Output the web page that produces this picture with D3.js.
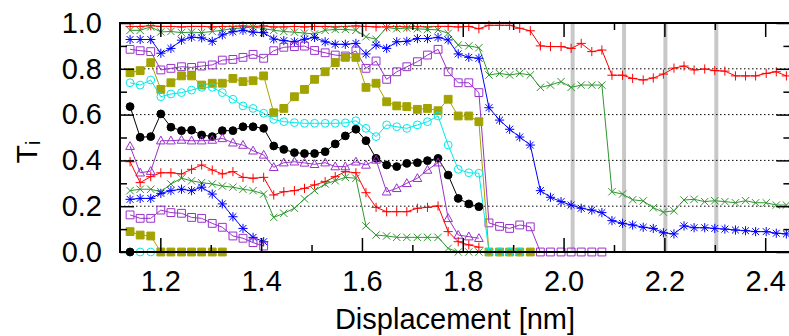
<!DOCTYPE html>
<html><head><meta charset="utf-8">
<script src="https://cdn.jsdelivr.net/npm/d3@7"></script>
<style>body{margin:0;background:#fff}svg{display:block}</style>
</head><body>
<svg id="c" width="789" height="336"></svg>
<script>
// ---- data ----
const displacement = [1.140,1.160,1.181,1.201,1.221,1.242,1.262,1.282,1.303,1.323,1.344,1.364,1.384,1.405,1.425,1.445,1.466,1.486,1.506,1.527,1.547,1.567,1.588,1.608,1.628,1.649,1.669,1.689,1.710,1.730,1.751,1.771,1.791,1.812,1.832,1.852,1.873,1.893,1.913,1.934,1.954,1.974,1.995,2.015,2.035,2.056,2.076,2.096,2.117,2.137,2.158,2.178,2.198,2.219,2.239,2.259,2.280,2.300,2.320,2.341,2.361,2.381,2.402,2.422,2.442];

const t1 = [0.985,0.985,0.988,0.985,0.985,0.983,0.985,0.985,0.983,0.985,0.985,0.987,0.985,0.987,0.983,0.983,0.985,0.983,0.985,0.985,0.983,0.985,0.987,0.985,0.983,0.983,0.985,0.983,0.985,0.983,0.985,0.985,0.983,0.985,0.975,0.990,0.990,0.990,0.977,0.966,0.900,0.897,0.897,0.889,0.911,0.875,0.882,0.772,0.772,0.758,0.751,0.760,0.777,0.803,0.812,0.795,0.799,0.792,0.790,0.769,0.769,0.769,0.780,0.787,0.769];
const t2 = [0.968,0.968,0.983,0.961,0.963,0.958,0.960,0.958,0.963,0.968,0.976,0.978,0.983,0.976,0.968,0.963,0.960,0.956,0.952,0.968,0.972,0.972,0.968,0.940,0.929,0.980,0.975,0.978,0.975,0.972,0.970,0.955,0.904,0.900,0.892,0.773,0.780,0.773,0.780,0.773,0.719,0.729,0.744,0.719,0.729,0.729,0.729,0.263,0.253,0.228,0.223,0.193,0.174,0.180,0.227,0.230,0.220,0.224,0.220,0.215,0.224,0.215,0.215,0.205,0.205];
const t3 = [0.928,0.928,0.928,0.868,0.889,0.925,0.938,0.935,0.920,0.948,0.962,0.968,0.960,0.958,0.930,0.923,0.918,0.929,0.937,0.918,0.907,0.907,0.911,0.865,0.904,0.889,0.918,0.920,0.932,0.932,0.937,0.926,0.865,0.850,0.846,0.630,0.576,0.536,0.502,0.467,0.268,0.239,0.220,0.205,0.191,0.183,0.172,0.137,0.125,0.118,0.108,0.103,0.084,0.079,0.114,0.106,0.106,0.103,0.100,0.096,0.093,0.089,0.089,0.082,0.079];
const t4 = [0.885,0.879,0.875,0.795,0.802,0.809,0.806,0.812,0.817,0.838,0.841,0.850,0.863,0.846,0.879,0.894,0.897,0.899,0.880,0.870,0.860,0.856,0.878,0.802,0.834,0.754,0.787,0.809,0.831,0.860,0.885,0.787,0.739,0.739,0.696,0.127,0.112,0.103,0.118,0.110,0,0,0,0,0,0,0];
const t5 = [0.783,0.792,0.827,0.710,0.739,0.769,0.769,0.729,0.737,0.737,0.758,0.744,0.748,0.769,0.608,0.627,0.678,0.710,0.754,0.787,0.827,0.850,0.850,0.719,0.737,0.656,0.638,0.635,0.623,0.627,0.617,0.667,0.594,0.594,0.569,0,0,0,0,0];
const t6 = [0.739,0.729,0.751,0.678,0.690,0.696,0.707,0.719,0.719,0.696,0.667,0.638,0.627,0.606,0.579,0.569,0.565,0.562,0.562,0.562,0.562,0.564,0.573,0.540,0.504,0.555,0.547,0.540,0.555,0.569,0.594,0.467,0.361,0.346,0.344,0,0,0,0];
const t7 = [0.635,0.501,0.504,0.603,0.545,0.530,0.532,0.511,0.504,0.530,0.530,0.547,0.547,0.540,0.463,0.448,0.434,0.430,0.430,0.438,0.472,0.507,0.536,0.486,0.409,0.380,0.373,0.387,0.390,0.399,0.409,0.336,0.234,0.210,0.198];
const t8 = [0.462,0.346,0.353,0.486,0.486,0.489,0.486,0.486,0.489,0.496,0.477,0.467,0.442,0.424,0.370,0.390,0.394,0.389,0.383,0.390,0.373,0.373,0.394,0.380,0.402,0.263,0.278,0.300,0.322,0.358,0.390,0.147,0.074,0.067,0.060];
const t9 = [0.394,0.303,0.329,0.346,0.346,0.341,0.361,0.380,0.358,0.341,0.351,0.326,0.322,0.326,0.249,0.263,0.268,0.278,0.293,0.307,0.329,0.351,0.346,0.259,0.195,0.176,0.176,0.176,0.191,0.195,0.201,0.089,0.045,0.031,0.021];
const t10 = [0.268,0.274,0.274,0.263,0.297,0.322,0.311,0.303,0.297,0.288,0.283,0.274,0.268,0.253,0.151,0.169,0.191,0.232,0.268,0.297,0.311,0.326,0.322,0.114,0.074,0.070,0.064,0.064,0.064,0.064,0.064,0.016,0,0,0];
const t11 = [0.230,0.234,0.234,0.256,0.268,0.274,0.268,0.283,0.253,0.210,0.154,0.103,0.064,0.045];
const t12 = [0.162,0.147,0.147,0.183,0.172,0.169,0.151,0.147,0.125,0.108,0.070,0.060,0.041,0.026];
const t13 = [0.089,0.074,0.070,0,0,0,0,0,0,0];
const t14 = [0,0,0];
const t15 = [0];

const seriesValues = [t1,t2,t3,t4,t5,t6,t7,t8,t9,t10,t11,t12,t13,t14,t15];
const seriesMarkers = ["plus","cross","star","box","fbox","circle","fcircle","triangle","plus","cross","star","box","fbox","circle","fcircle"];
const seriesColors = ["#ff0000","#2f962f","#0000ff","#9932cc","#a3a300","#00eaea","#000000","#9932cc","#ff0000","#2f962f","#0000ff","#9932cc","#a3a300","#00eaea","#000000"];

const xTicksMajor = [1.2,1.4,1.6,1.8,2.0,2.2,2.4];
const xTicksMinor = [1.3,1.5,1.7,1.9,2.1,2.3];
const yTicksMajor = [0,0.2,0.4,0.6,0.8,1.0];
const yTicksMinor = [0.1,0.3,0.5,0.7,0.9];
const yGrid = [0.2,0.4,0.6,0.8];
const greyBands = [2.018,2.120,2.202,2.303];

// ---- layout ----
const L = 120, R = 790.4, T = 23, B = 252;
const svg = d3.select("#c");
const x = d3.scaleLinear().domain([1.12, 2.45]).range([L, R]);
const y = d3.scaleLinear().domain([0, 1]).range([B, T]);
const FONT = "'Liberation Sans', Arial, sans-serif";

// grey bands
svg.append("g").selectAll("line").data(greyBands).join("line")
  .attr("x1", d => x(d)).attr("x2", d => x(d)).attr("y1", T).attr("y2", B)
  .attr("stroke", "#c8c8c8").attr("stroke-width", 4);

// grid
svg.append("g").selectAll("line").data(yGrid).join("line")
  .attr("x1", L).attr("x2", R).attr("y1", d => y(d)).attr("y2", d => y(d))
  .attr("stroke", "#000").attr("stroke-width", 1).attr("stroke-dasharray", "1.5,2.5");

// marker paths
function markerPath(type, r) {
  switch (type) {
    case "plus": return `M${-r},0H${r}M0,${-r}V${r}`;
    case "cross": { const a = r * 0.8; return `M${-a},${-a}L${a},${a}M${-a},${a}L${a},${-a}`; }
    case "star": { const a = r * 0.75; return `M${-r},0H${r}M0,${-r}V${r}M${-a},${-a}L${a},${a}M${-a},${a}L${a},${-a}`; }
    case "box": case "fbox": { const a = r * 0.85; return `M${-a},${-a}H${a}V${a}H${-a}Z`; }
    case "circle": case "fcircle": { const a = r * 0.85; return `M${a},0A${a},${a} 0 1,1 ${-a},0A${a},${a} 0 1,1 ${a},0Z`; }
    case "triangle": { return `M0,${-r}L${r*0.95},${r*0.7}L${-r*0.95},${r*0.7}Z`; }
  }
}

const line = d3.line().x(d => x(d[0])).y(d => y(d[1]));
seriesValues.forEach((vals, si) => {
  const pts = vals.map((v, i) => [displacement[i], v]);
  const col = seriesColors[si];
  const mk = seriesMarkers[si];
  const g = svg.append("g");
  g.append("path").datum(pts).attr("d", line)
    .attr("fill", "none").attr("stroke", col).attr("stroke-width", 1);
  const filled = mk === "fbox" || mk === "fcircle";
  g.selectAll("path.m").data(pts).join("path").attr("class", "m")
    .attr("transform", d => `translate(${x(d[0])},${y(d[1])})`)
    .attr("d", markerPath(mk, 4.6))
    .attr("fill", filled ? col : "none")
    .attr("stroke", col).attr("stroke-width", 1);
});

// axes
function styleAxis(g) {
  g.select(".domain").remove();
  g.selectAll(".tick line").attr("stroke", "#000").attr("stroke-width", 1.5);
  g.selectAll("text").attr("font-family", FONT).attr("font-size", 29).attr("fill", "#000");
}
svg.append("g").attr("transform", `translate(0,${B})`)
  .call(d3.axisBottom(x).tickValues(xTicksMajor).tickFormat(d3.format(".1f")).tickSize(-14).tickPadding(18)).call(styleAxis);
svg.append("g").attr("transform", `translate(0,${B})`)
  .call(d3.axisBottom(x).tickValues(xTicksMinor).tickFormat("").tickSize(-7)).call(styleAxis);
svg.append("g").attr("transform", `translate(0,${T})`)
  .call(d3.axisTop(x).tickValues(xTicksMajor).tickFormat("").tickSize(-14)).call(styleAxis);
svg.append("g").attr("transform", `translate(0,${T})`)
  .call(d3.axisTop(x).tickValues(xTicksMinor).tickFormat("").tickSize(-7)).call(styleAxis);
svg.append("g").attr("transform", `translate(${L},0)`)
  .call(d3.axisLeft(y).tickValues(yTicksMajor).tickFormat(d3.format(".1f")).tickSize(-14).tickPadding(18)).call(styleAxis);
svg.append("g").attr("transform", `translate(${L},0)`)
  .call(d3.axisLeft(y).tickValues(yTicksMinor).tickFormat("").tickSize(-7)).call(styleAxis);
svg.append("g").attr("transform", `translate(${R},0)`)
  .call(d3.axisRight(y).tickValues(yTicksMajor).tickFormat("").tickSize(-14)).call(styleAxis);
svg.append("g").attr("transform", `translate(${R},0)`)
  .call(d3.axisRight(y).tickValues(yTicksMinor).tickFormat("").tickSize(-7)).call(styleAxis);

// border
svg.append("rect").attr("x", L).attr("y", T).attr("width", R - L).attr("height", B - T)
  .attr("fill", "none").attr("stroke", "#000").attr("stroke-width", 2);

// titles
svg.append("text").attr("x", 455).attr("y", 329).attr("text-anchor", "middle")
  .attr("font-family", FONT).attr("font-size", 29).text("Displacement [nm]");
const yl = svg.append("text").attr("transform", "translate(37,152) rotate(-90)")
  .attr("text-anchor", "middle").attr("font-family", FONT).attr("font-size", 30);
yl.append("tspan").text("T");
yl.append("tspan").attr("font-size", 20).attr("dy", 3).text("i");
</script>
</body></html>
